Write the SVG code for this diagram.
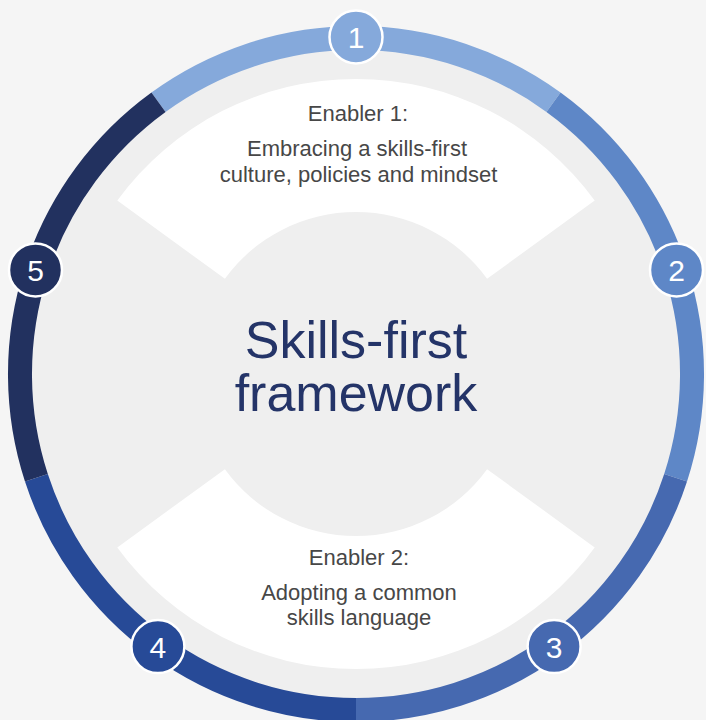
<svg xmlns="http://www.w3.org/2000/svg" width="706" height="720" viewBox="0 0 706 720">
  <style>
    .seg { fill: none; stroke-width: 24; }
    .badge { stroke: #ffffff; stroke-width: 2.5; }
    .num { font-family: "Liberation Sans", Arial, sans-serif; font-size: 30px; fill: #ffffff; text-anchor: middle; }
    .en { font-family: "Liberation Sans", Arial, sans-serif; font-size: 22px; fill: #474747; text-anchor: middle; }
    .title { font-family: "Liberation Sans", Arial, sans-serif; font-size: 52px; fill: #243468; text-anchor: middle; }
    .sector { fill: #ffffff; }
  </style>
  <rect x="0" y="0" width="706" height="720" fill="#f5f5f5"/>
  <circle cx="356" cy="374" r="347" fill="#efefef"/>

  <g id="sector-top">
    <path class="sector" d="M117.3,200.6 A295,295 0 0 1 594.7,200.6 L487.1,278.8 A162,162 0 0 0 224.9,278.8 Z"/>
  </g>
  <g id="sector-bottom">
    <path class="sector" d="M594.7,547.4 A295,295 0 0 1 117.3,547.4 L224.9,469.2 A162,162 0 0 0 487.1,469.2 Z"/>
  </g>

  <g id="connectors">
    <path class="seg" stroke="#85a9db" d="M158.5,102.2 A336,336 0 0 1 553.5,102.2"/>
    <path class="seg" stroke="#5e87c7" d="M553.5,102.2 A336,336 0 0 1 675.6,477.8"/>
    <path class="seg" stroke="#4669b0" d="M675.6,477.8 A336,336 0 0 1 356,710"/>
    <path class="seg" stroke="#274a97" d="M356,710 A336,336 0 0 1 36.4,477.8"/>
    <path class="seg" stroke="#22315f" d="M36.4,477.8 A336,336 0 0 1 158.5,102.2"/>
  </g>

  <g id="title">
    <text class="title" x="356" y="358">Skills-first</text>
    <text class="title" x="356" y="411">framework</text>
  </g>

  <g id="enabler-1">
    <text class="en" x="358" y="121">Enabler 1:</text>
    <text class="en" x="357" y="155.5">Embracing a skills-first</text>
    <text class="en" x="358.5" y="181.5">culture, policies and mindset</text>
  </g>

  <g id="enabler-2">
    <text class="en" x="359" y="565">Enabler 2:</text>
    <text class="en" x="359" y="600">Adopting a common</text>
    <text class="en" x="359" y="625">skills language</text>
  </g>

  <g id="badge-1">
    <circle class="badge" cx="356" cy="37" r="26.5" fill="#85a9db"/>
    <text class="num" x="356" y="48">1</text>
  </g>
  <g id="badge-2">
    <circle class="badge" cx="676.5" cy="269.9" r="26.5" fill="#5e87c7"/>
    <text class="num" x="676.5" y="280.8">2</text>
  </g>
  <g id="badge-3">
    <circle class="badge" cx="554.1" cy="646.6" r="26.5" fill="#4669b0"/>
    <text class="num" x="554.1" y="657.5">3</text>
  </g>
  <g id="badge-4">
    <circle class="badge" cx="157.9" cy="646.6" r="26.5" fill="#274a97"/>
    <text class="num" x="157.9" y="657.5">4</text>
  </g>
  <g id="badge-5">
    <circle class="badge" cx="35.5" cy="269.9" r="26.5" fill="#22315f"/>
    <text class="num" x="35.5" y="280.8">5</text>
  </g>
</svg>
